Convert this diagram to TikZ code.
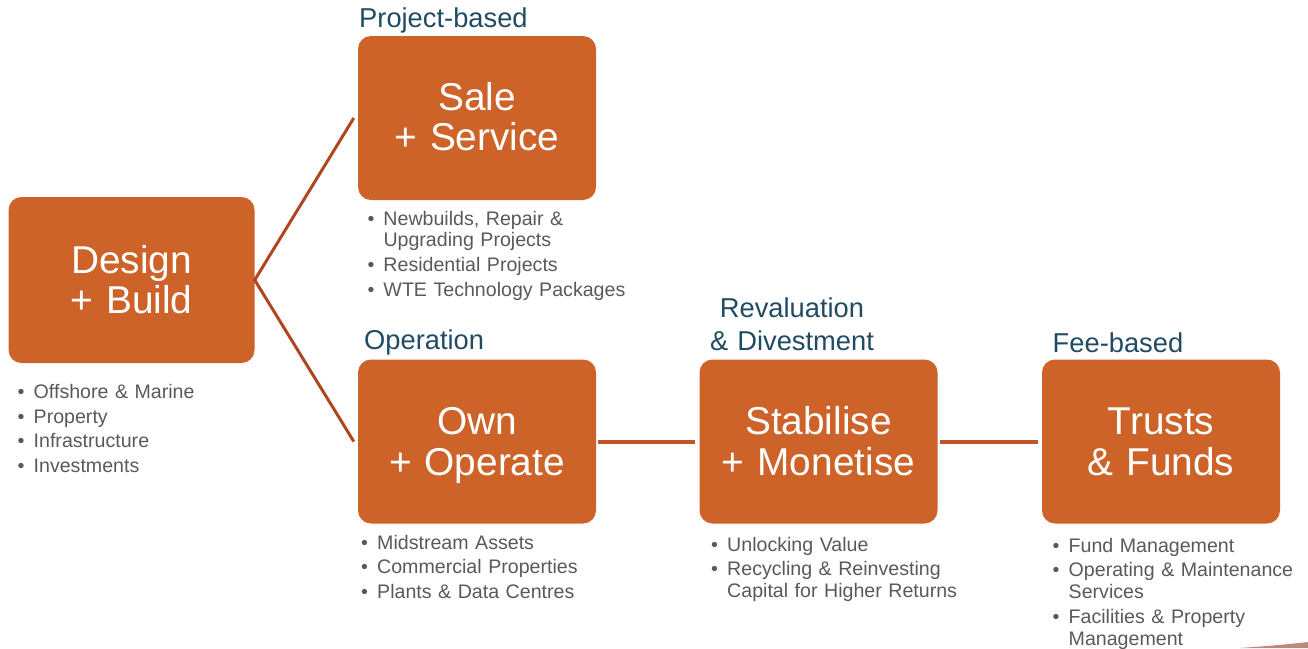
\documentclass[tikz,border=0pt]{standalone}
\usepackage{fontspec}
\setmainfont{Liberation Sans}
\definecolor{boxorange}{HTML}{CD6328}
\definecolor{linkdark}{HTML}{B0451F}
\definecolor{linkmid}{HTML}{C5532A}
\definecolor{headblue}{HTML}{214B63}
\definecolor{bulletgray}{HTML}{595959}
\newcommand{\bul}{\makebox[16pt][l]{\textbullet}}
\newcommand{\cont}{\hspace*{16pt}}
\begin{document}
\begin{tikzpicture}[x=1pt,y=-1pt,
  stagebox/.style={draw=none, fill=boxorange, rounded corners=13pt, inner sep=0pt},
  boxlabel/.style={anchor=base, align=center, text width=230pt, text=white, inner sep=0pt,
    font=\fontsize{38.8}{40.5}\selectfont},
  heading/.style={anchor=base west, inner sep=0pt, text=headblue,
    font=\fontsize{27.3}{33}\selectfont},
  bullets/.style={anchor=base west, align=left, text width=280pt, inner sep=0pt,
    text=bulletgray, font=\fontsize{19.6}{21.8}\selectfont},
  diag/.style={draw=linkdark, line width=3pt},
  flat/.style={draw=linkmid, line width=4pt}]
\useasboundingbox (0,0) rectangle (1308,648);

% stage boxes
\node[stagebox, minimum width=246pt, minimum height=166pt] (design) at (131.5,280) {};
\node[stagebox, minimum width=238pt, minimum height=164pt] (sale) at (477,118) {};
\node[stagebox, minimum width=238pt, minimum height=164pt] (own) at (477,441.5) {};
\node[stagebox, minimum width=238pt, minimum height=164pt] (stab) at (818.5,441.5) {};
\node[stagebox, minimum width=238pt, minimum height=164pt] (trust) at (1161,441.5) {};

% labels inside the boxes
\node[boxlabel] (designlbl) at ([yshift=7pt]design.center) {Design\\+ Build};
\node[boxlabel] (salelbl) at ([yshift=8pt]sale.center) {Sale\\+ Service};
\node[boxlabel] (ownlbl) at ([yshift=7pt]own.center) {Own\\+ Operate};
\node[boxlabel] (stablbl) at ([yshift=7pt]stab.center) {Stabilise\\+ Monetise};
\node[boxlabel] (trustlbl) at ([yshift=7pt]trust.center) {Trusts\\\& Funds};

% connectors
\coordinate (fork) at (design.east);
\draw[diag, line join=miter] ([xshift=-4pt]sale.west) -- (fork) -- ([xshift=-4pt]own.west);
\draw[flat] ([xshift=2pt]own.east) -- ([xshift=-4pt]stab.west);
\draw[flat] ([xshift=2pt]stab.east) -- ([xshift=-4pt]trust.west);

% headings
\node[heading] (hproj) at (359,27) {Project-based};
\node[heading] (hoper) at (364,349) {Operation};
\node[heading, anchor=base, align=center, text width=220pt] (hreval) at (792,317) {Revaluation\\\& Divestment};
\node[heading] (hfee) at (1052.5,352) {Fee-based};

% bullet lists
\node[bullets] (ldesign) at (17.5,398.5) {\bul Offshore \& Marine\\[2.9pt]\bul Property\\[2.9pt]\bul Infrastructure\\[2.9pt]\bul Investments};
\node[bullets] (lsale) at (367.3,225) {\bul Newbuilds, Repair \&\\\cont Upgrading Projects\\[2.9pt]\bul Residential Projects\\[2.9pt]\bul WTE Technology Packages};
\node[bullets] (lown) at (361,549) {\bul Midstream Assets\\[2.9pt]\bul Commercial Properties\\[2.9pt]\bul Plants \& Data Centres};
\node[bullets] (lstab) at (711,551) {\bul Unlocking Value\\[2.9pt]\bul Recycling \& Reinvesting\\\cont Capital for Higher Returns};
\node[bullets] (ltrust) at (1052.5,552) {\bul Fund Management\\[2.9pt]\bul Operating \& Maintenance\\\cont Services\\[2.9pt]\bul Facilities \& Property\\\cont Management};

% thin dark sliver at the lower right edge
\fill[black!60!red!70!brown, opacity=0.55] (1240,648) .. controls (1268,646) and (1292,644) .. (1308,642) -- (1308,648) -- cycle;
\end{tikzpicture}
\end{document}
